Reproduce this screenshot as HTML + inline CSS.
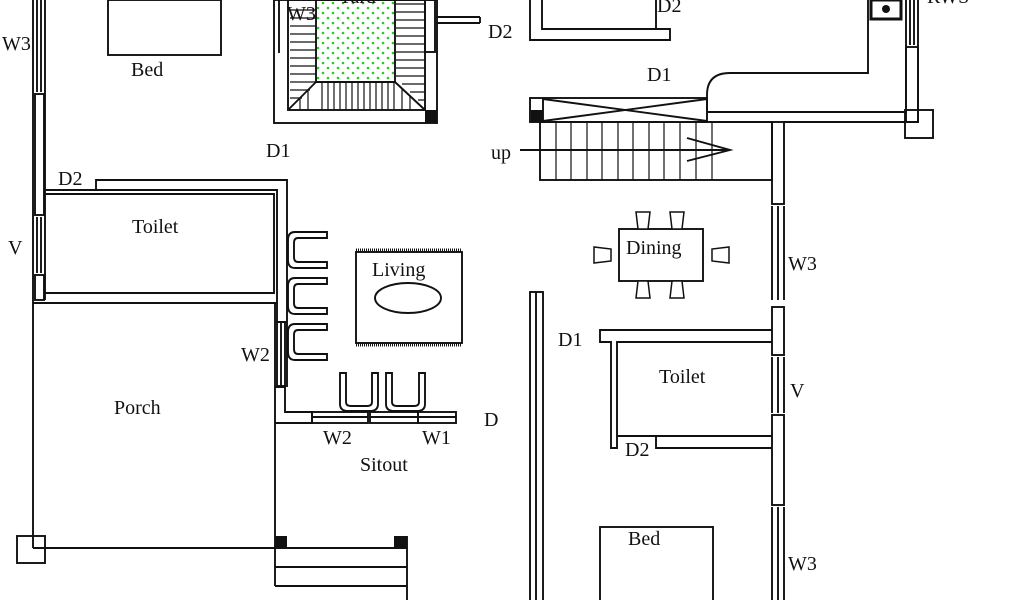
<!DOCTYPE html>
<html><head><style>html,body{margin:0;padding:0;background:#fff}svg{display:block}text{font-family:"Liberation Serif",serif;font-size:20px;fill:#111}</style></head>
<body>
<svg width="1024" height="600" viewBox="0 0 1024 600" xmlns="http://www.w3.org/2000/svg">
<defs>
<pattern id="dots" width="10" height="10" patternUnits="userSpaceOnUse"><circle cx="3" cy="3" r="1.3" fill="#2c2"/><circle cx="8" cy="8" r="1.3" fill="#2c2"/></pattern>
</defs>
<g fill="none" stroke="#111" stroke-width="1.9">
<line x1="33" y1="0" x2="33" y2="548"/><line x1="45" y1="0" x2="45" y2="300"/>
<line x1="37" y1="0" x2="37" y2="92"/><line x1="41" y1="0" x2="41" y2="92"/>
<rect x="35" y="94" width="9" height="121"/>
<line x1="37" y1="217" x2="37" y2="273"/><line x1="41" y1="217" x2="41" y2="273"/>
<rect x="35" y="275" width="9" height="25"/>
<rect x="108" y="0" width="113" height="55"/>
<polyline points="45,190 96,190 96,180 287,180 287,320"/>
<polyline points="96,190 277,190 277,292"/>
<polyline points="44,194 274,194 274,293 44,293"/>
<polyline points="33,303 277,303 277,292"/>
<line x1="275" y1="303" x2="275" y2="548"/>
<polyline points="277,303 277,322 287,322"/>
<rect x="277" y="322" width="8" height="64"/><line x1="281" y1="322" x2="281" y2="386"/>
<polyline points="275,387 285,387 285,412 312,412 312,423 275,423"/>
<rect x="312" y="412" width="56" height="11"/><line x1="312" y1="417" x2="368" y2="417"/>
<rect x="370" y="412" width="48" height="11"/><line x1="370" y1="417" x2="418" y2="417"/>
<rect x="418" y="412" width="38" height="11"/><line x1="418" y1="417" x2="456" y2="417"/>
<line x1="287" y1="320" x2="287" y2="387"/>
<line x1="33" y1="548" x2="275" y2="548"/>
<rect x="17" y="536" width="28" height="27"/>
<line x1="275" y1="548" x2="407" y2="548"/><line x1="275" y1="567" x2="407" y2="567"/><line x1="275" y1="586" x2="407" y2="586"/>
<line x1="275" y1="548" x2="275" y2="586"/><line x1="407" y1="536" x2="407" y2="600"/>
<path d="M327,232 H295 Q288,232 288,240 V260 Q288,268 295,268 H327 V262 H298 Q294,262 294,257 V243 Q294,238 298,238 H327 Z"/>
<path d="M327,278 H295 Q288,278 288,286 V306 Q288,314 295,314 H327 V308 H298 Q294,308 294,303 V289 Q294,284 298,284 H327 Z"/>
<path d="M327,324 H295 Q288,324 288,332 V352 Q288,360 295,360 H327 V354 H298 Q294,354 294,349 V335 Q294,330 298,330 H327 Z"/>
<path d="M340,373 V404 Q340,411 348,411 H370 Q378,411 378,404 V373 H372 V402 Q372,406 367,406 H351 Q346,406 346,402 V373 Z"/>
<path d="M386,373 V404 Q386,411 394,411 H417 Q425,411 425,404 V373 H419 V402 Q419,406 414,406 H397 Q392,406 392,402 V373 Z"/>
<rect x="356" y="252" width="106" height="91"/>
<line x1="356" y1="250" x2="462" y2="250" stroke-width="3" stroke-dasharray="1 1"/>
<line x1="356" y1="345" x2="462" y2="345" stroke-width="3" stroke-dasharray="1 1"/>
<ellipse cx="408" cy="298" rx="33" ry="15"/>
<rect x="274" y="0" width="163" height="123"/>
<line x1="279" y1="0" x2="279" y2="53"/>
<rect x="288" y="0" width="137" height="110"/>
<rect x="425" y="0" width="10" height="52"/>
<rect x="316" y="0" width="79" height="82" fill="url(#dots)" stroke="none"/>
<line x1="316" y1="0" x2="316" y2="82"/><line x1="395" y1="0" x2="395" y2="82"/>
<line x1="316" y1="82" x2="395" y2="82"/>
<line x1="316" y1="82" x2="288" y2="110"/><line x1="395" y1="82" x2="425" y2="110"/>
<line x1="436" y1="17" x2="480" y2="17"/><line x1="436" y1="23" x2="480" y2="23"/><line x1="480" y1="17" x2="480" y2="23"/>
<polyline points="530,0 530,40 670,40 670,29 542,29 542,0"/>
<line x1="656" y1="0" x2="656" y2="29"/>
<rect x="530" y="98" width="177" height="24"/>
<line x1="543" y1="98" x2="543" y2="122"/>
<line x1="543" y1="99" x2="707" y2="121"/><line x1="543" y1="121" x2="707" y2="99"/>
<rect x="540" y="122" width="232" height="58"/>
<line x1="520" y1="150" x2="730" y2="150"/>
<polyline points="687,138 730,150 687,161"/>
<path d="M707,110 V95 Q707,73 730,73 H868 V0"/>
<polyline points="707,112 906,112 906,45"/>
<polyline points="710,122 772,122"/><polyline points="784,122 918,122 918,45"/>
<rect x="906" y="47" width="12" height="75"/>
<line x1="906" y1="0" x2="906" y2="45"/><line x1="910" y1="0" x2="910" y2="45"/><line x1="914" y1="0" x2="914" y2="45"/><line x1="918" y1="0" x2="918" y2="45"/>
<rect x="905" y="110" width="28" height="28"/>
<rect x="871" y="0" width="30" height="19" stroke-width="3"/>
<rect x="772" y="122" width="12" height="82"/>
<line x1="772" y1="206" x2="772" y2="300"/><line x1="784" y1="206" x2="784" y2="300"/><line x1="778" y1="206" x2="778" y2="300"/>
<rect x="772" y="307" width="12" height="48"/>
<line x1="772" y1="357" x2="772" y2="413"/><line x1="784" y1="357" x2="784" y2="413"/><line x1="778" y1="357" x2="778" y2="413"/>
<rect x="772" y="415" width="12" height="90"/>
<line x1="772" y1="507" x2="772" y2="600"/><line x1="784" y1="507" x2="784" y2="600"/><line x1="778" y1="507" x2="778" y2="600"/>
<rect x="530" y="292" width="13" height="320"/><line x1="536" y1="292" x2="536" y2="600"/>
<polyline points="772,330 600,330 600,342 611,342 611,448 617,448 617,342 772,342"/>
<polyline points="617,436 772,436"/>
<polyline points="656,436 656,448 772,448"/>
<rect x="619" y="229" width="84" height="52"/>
<rect x="600" y="527" width="113" height="80"/>
</g>
<g fill="#111">
<rect x="425" y="110" width="12" height="13"/>
<rect x="531" y="110" width="12" height="12"/>
<rect x="275" y="536" width="12" height="12"/><rect x="394" y="536" width="13" height="12"/>
<circle cx="886" cy="9" r="4"/>
</g>
<g stroke="#111" stroke-width="1.2">
<path d="M290,10H316M290,18H316M290,26H316M290,34H316M290,42H316M290,50H316M290,58H316M290,66H316M290,74H316M290,82H316M290,90H310M290,98H302M396,4H425M396,12H425M396,20H425M396,28H425M396,36H425M396,44H425M396,52H425M396,60H425M396,68H425M396,76H425M402,84H425M410,92H425M418,100H425"/>
<path d="M322,83V110M328,83V110M334,83V110M340,83V110M346,83V110M352,83V110M358,83V110M364,83V110M370,83V110M376,83V110M382,83V110M388,83V110M394,83V110M300,98V110M308,90V110M402,88V110M410,96V110"/>
<path d="M556,122V180M571,122V180M587,122V180M602,122V180M618,122V180M633,122V180M649,122V180M664,122V180M680,122V180M696,122V180M712,122V180"/>
</g>
<g fill="#fff" stroke="#111" stroke-width="1.5">
<path d="M636,212h14l-2,17h-10z"/><path d="M670,212h14l-2,17h-10z"/>
<path d="M636,298h14l-2,-17h-10z"/><path d="M670,298h14l-2,-17h-10z"/>
<path d="M594,247v16l17,-2v-12z"/><path d="M729,247v16l-17,-2v-12z"/>
</g>
<text x="131" y="76">Bed</text>
<text x="2" y="50" font-size="18">W3</text>
<text x="8" y="254" font-size="18">V</text>
<text x="58" y="185" font-size="18">D2</text>
<text x="266" y="157" font-size="18">D1</text>
<text x="132" y="233">Toilet</text>
<text x="372" y="276">Living</text>
<text x="114" y="414">Porch</text>
<text x="241" y="361" font-size="18">W2</text>
<text x="323" y="444" font-size="18">W2</text>
<text x="422" y="444" font-size="18">W1</text>
<text x="484" y="426" font-size="18">D</text>
<text x="360" y="471">Sitout</text>
<text x="287" y="20" font-size="16">W3</text>
<text x="338" y="3" font-size="18">Yard</text>
<text x="488" y="38" font-size="18">D2</text>
<text x="657" y="12" font-size="18">D2</text>
<text x="647" y="81" font-size="18">D1</text>
<text x="491" y="159">up</text>
<text x="626" y="254">Dining</text>
<text x="788" y="270" font-size="18">W3</text>
<text x="558" y="346" font-size="18">D1</text>
<text x="659" y="383">Toilet</text>
<text x="790" y="397" font-size="18">V</text>
<text x="625" y="456" font-size="18">D2</text>
<text x="628" y="545">Bed</text>
<text x="788" y="570" font-size="18">W3</text>
<text x="927" y="3" font-size="18">RWS</text>
</svg>
</body></html>
